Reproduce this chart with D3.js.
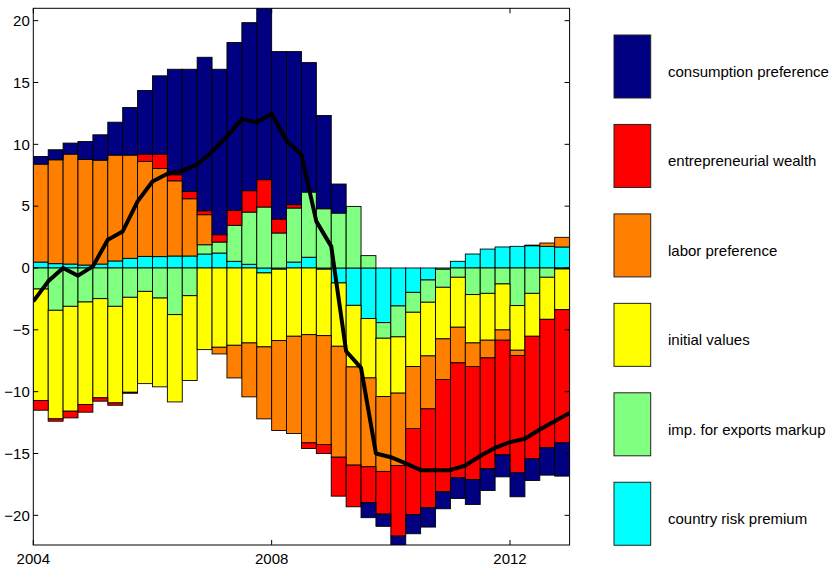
<!DOCTYPE html>
<html>
<head>
<meta charset="utf-8">
<script src="https://cdn.jsdelivr.net/npm/d3@7/dist/d3.min.js"></script>
<style>
  html, body { margin: 0; padding: 0; background: #fff; }
  svg { display: block; }
  text { font-family: "Liberation Sans", Arial, Helvetica, sans-serif; fill: #000; }
</style>
</head>
<body>
<svg id="chart" width="835" height="567"></svg>
<script>
// Quarterly decomposition of the deviation into shock contributions
const quarters = [
  "2004Q1","2004Q2","2004Q3","2004Q4","2005Q1","2005Q2","2005Q3","2005Q4",
  "2006Q1","2006Q2","2006Q3","2006Q4","2007Q1","2007Q2","2007Q3","2007Q4",
  "2008Q1","2008Q2","2008Q3","2008Q4","2009Q1","2009Q2","2009Q3","2009Q4",
  "2010Q1","2010Q2","2010Q3","2010Q4","2011Q1","2011Q2","2011Q3","2011Q4",
  "2012Q1","2012Q2","2012Q3","2012Q4"
];

const countryRisk = [0.48, 0.35, 0.32, 0.24, 0.32, 0.57, 0.78, 0.94, 0.92, 0.97, 0.97, 1.13,
  1.21, 0.54, 0.30, -0.40, -0.10, 0.48, 0.87, -0.10, -1.21, -3.02, -4.09, -4.42,
  -3.07, -1.97, -0.97, -0.10, 0.54, 1.13, 1.53, 1.70, 1.75, 1.80, 1.75, 1.70];

const exportsMarkup = [-1.70, -3.42, -3.10, -2.75, -2.48, -3.10, -2.37, -1.89, -2.43, -3.77, -2.24, 0.75,
  0.89, 2.91, 4.22, 4.93, 2.83, 4.37, 5.27, 4.79, 4.44, 4.98, 1.00, -1.26,
  -2.50, -1.61, -1.80, -1.46, -0.75, -2.15, -2.05, -1.29, -3.04, -2.05, -0.75, -0.08];

const initialValues = [-9.02, -8.78, -8.48, -8.29, -8.02, -7.81, -7.68, -7.46, -7.18, -7.06, -6.86, -6.60,
  -6.41, -6.25, -6.06, -5.98, -5.77, -5.52, -5.39, -5.37, -5.12, -4.98, -4.80, -4.71,
  -4.55, -4.39, -4.34, -4.17, -4.04, -3.91, -3.79, -3.72, -3.61, -3.47, -3.40, -3.29];

const laborPref = [7.92, 8.40, 8.89, 8.54, 8.40, 8.56, 8.35, 7.68, 7.13, 6.08, 4.63, 2.43,
  -0.54, -2.64, -4.36, -5.82, -7.27, -7.86, -8.75, -8.80, -8.97, -7.94, -7.18, -6.06,
  -5.85, -5.01, -4.28, -3.29, -2.88, -1.91, -1.43, -0.83, -0.43, 0.05, 0.27, 0.78];

const entreWealth = [-0.78, -0.19, -0.54, -0.62, -0.27, -0.19, -0.08, 0.59, 1.16, 0.49, 0.59, 0.32,
  0.59, 1.21, 1.73, 2.21, 1.13, 0.27, -0.46, -0.73, -3.15, -3.37, -2.91, -3.45,
  -5.71, -6.95, -8.00, -9.08, -9.30, -9.13, -8.97, -9.27, -9.48, -9.91, -10.39, -10.77];

const consumptionPref = [0.62, 0.81, 0.89, 1.45, 2.05, 2.66, 3.85, 5.14, 6.33, 8.53, 9.88, 12.41,
  13.38, 13.57, 13.59, 14.30, 13.54, 12.38, 10.47, 7.54, 2.35, 0.00, -1.21, -0.99,
  -0.95, -1.56, -1.56, -1.37, -1.67, -2.02, -1.75, -1.78, -1.94, -1.75, -2.21, -2.69];

// Total deviation (black line), one value per quarter boundary
const lineQuarters = quarters.concat(["2013Q1"]);
const totalDeviation = [-2.70, -1.08, 0.00, -0.62, 0.13, 2.29, 2.96, 5.39, 7.00, 7.62, 7.87, 8.36,
  9.42, 10.64, 12.04, 11.77, 12.47, 10.29, 9.15, 3.77, 1.75, -6.73, -8.08, -15.00,
  -15.30, -15.80, -16.35, -16.35, -16.35, -15.97, -15.20, -14.54, -14.08, -13.81, -13.06, -12.39, -11.72];

const yTicks = [-20, -15, -10, -5, 0, 5, 10, 15, 20];
const xTicks = [2004, 2008, 2012];

// Stacking order (bottom of each stack first) and legend order
const series = [
  { key: "risk",  label: "country risk premium",      color: "#00ffff", values: countryRisk },
  { key: "exp",   label: "imp. for exports markup",   color: "#80ff80", values: exportsMarkup },
  { key: "init",  label: "initial values",            color: "#ffff00", values: initialValues },
  { key: "labor", label: "labor preference",          color: "#ff8000", values: laborPref },
  { key: "entre", label: "entrepreneurial wealth",    color: "#ff0000", values: entreWealth },
  { key: "cons",  label: "consumption preference",    color: "#000080", values: consumptionPref }
];

const toYear = q => +q.slice(0, 4) + (+q.slice(5) - 1) / 4;

const rows = quarters.map((q, i) => {
  const r = { t: toYear(q) };
  series.forEach(s => { r[s.key] = s.values[i]; });
  return r;
});

const svg = d3.select("#chart");
const m = { left: 33.3, top: 8.3 };
const W = 536.3, H = 536.7;
const g = svg.append("g").attr("transform", `translate(${m.left},${m.top})`);

const x = d3.scaleLinear().domain([2004, 2013]).range([0, W]);
const y = d3.scaleLinear().domain([-22.4, 21]).range([H, 0]);

g.append("clipPath").attr("id", "plotClip")
  .append("rect").attr("width", W).attr("height", H);

const plot = g.append("g").attr("clip-path", "url(#plotClip)");

const stack = d3.stack()
  .keys(series.map(s => s.key))
  .order(d3.stackOrderNone)
  .offset(d3.stackOffsetDiverging);

const stacked = stack(rows);

plot.selectAll("g.layer")
  .data(stacked)
  .join("g")
  .attr("class", "layer")
  .attr("fill", (d, i) => series[i].color)
  .selectAll("rect")
  .data(d => d.filter(p => Math.abs(p[1] - p[0]) > 1e-9))
  .join("rect")
  .attr("x", p => x(p.data.t))
  .attr("width", p => x(p.data.t + 0.25) - x(p.data.t))
  .attr("y", p => y(Math.max(p[0], p[1])))
  .attr("height", p => Math.abs(y(p[0]) - y(p[1])))
  .attr("stroke", "#000")
  .attr("stroke-width", 0.9);

const line = d3.line()
  .x((d, i) => x(toYear(lineQuarters[i])))
  .y(d => y(d));

plot.append("path")
  .datum(totalDeviation)
  .attr("d", line)
  .attr("fill", "none")
  .attr("stroke", "#000")
  .attr("stroke-width", 4)
  .attr("stroke-linejoin", "round");

// Frame and inward ticks
g.append("rect").attr("width", W).attr("height", H)
  .attr("fill", "none").attr("stroke", "#000").attr("stroke-width", 1);

const tickLen = 5;
yTicks.forEach(v => {
  const yy = y(v);
  g.append("line").attr("x1", 0).attr("x2", tickLen).attr("y1", yy).attr("y2", yy)
    .attr("stroke", "#000").attr("stroke-width", 1);
  g.append("line").attr("x1", W).attr("x2", W - tickLen).attr("y1", yy).attr("y2", yy)
    .attr("stroke", "#000").attr("stroke-width", 1);
  g.append("text").attr("x", -3.5).attr("y", yy).attr("dy", "0.35em")
    .attr("text-anchor", "end").attr("font-size", 15)
    .text(v < 0 ? "\u2212" + Math.abs(v) : String(v));
});

xTicks.forEach(v => {
  const xx = x(v);
  g.append("line").attr("x1", xx).attr("x2", xx).attr("y1", H).attr("y2", H - tickLen)
    .attr("stroke", "#000").attr("stroke-width", 1);
  g.append("line").attr("x1", xx).attr("x2", xx).attr("y1", 0).attr("y2", tickLen)
    .attr("stroke", "#000").attr("stroke-width", 1);
  g.append("text").attr("x", xx).attr("y", H + 19)
    .attr("text-anchor", "middle").attr("font-size", 15)
    .text(v);
});

// Legend, top entry first
const legendItems = series.slice().reverse();
const leg = svg.append("g");
const boxTop = 35, pitch = 89.45, boxH = 63, boxX = 614, boxW = 36.7;
legendItems.forEach((s, k) => {
  const top = boxTop + k * pitch;
  leg.append("rect").attr("x", boxX).attr("y", top).attr("width", boxW).attr("height", boxH)
    .attr("fill", s.color).attr("stroke", "#222").attr("stroke-width", 1);
  leg.append("text").attr("x", 668).attr("y", top + 41.8)
    .attr("font-size", 15).text(s.label);
});
</script>
</body>
</html>
